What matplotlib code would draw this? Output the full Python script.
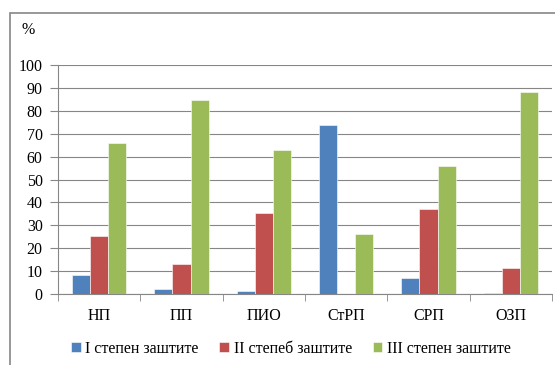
import matplotlib
matplotlib.use("Agg")
import matplotlib.pyplot as plt
import numpy as np
from matplotlib.patches import Rectangle

categories = ["НП", "ПП", "ПИО", "СтРП", "СРП", "ОЗП"]
series_names = ["I степен заштите", "II степеб заштите", "III степен заштите"]
s1 = [8.5, 2.0, 1.5, 74.0, 7.0, 0.5]
s2 = [25.5, 13.3, 35.5, 0.0, 37.0, 11.5]
s3 = [66.0, 84.7, 63.0, 26.0, 56.0, 88.0]
colors = ["#4F81BD", "#C0504D", "#9BBB59"]
yticks = [0, 10, 20, 30, 40, 50, 60, 70, 80, 90, 100]

plt.rcParams['font.family'] = ['Liberation Serif', 'DejaVu Serif']

W, H = 555, 365
fig = plt.figure(figsize=(W/100, H/100), dpi=100)
ax = fig.add_axes([58/W, 1-294/H, (552-58)/W, (294-65)/H])

x = np.arange(len(categories))
bw = 0.22
for i, (vals, c, name) in enumerate(zip([s1, s2, s3], colors, series_names)):
    ax.bar(x + (i-1)*bw, vals, width=bw, color=c, label=name,
           edgecolor='white', linewidth=0.4, zorder=3)

ax.set_xlim(-0.5, len(categories)-0.5)
ax.set_ylim(0, 100)
ax.set_yticks(yticks)
ax.set_yticklabels([str(v) for v in yticks], fontsize=11.5)
ax.set_xticks(x)
ax.set_xticklabels(categories, fontsize=11.5)
ax.set_xticks(np.arange(len(categories)+1)-0.5, minor=True)
ax.tick_params(axis='x', which='major', length=0, pad=10)
ax.tick_params(axis='x', which='minor', length=5, color='#868686', direction='out')
ax.tick_params(axis='y', length=6, color='#868686', direction='out', pad=5)
ax.grid(axis='y', color='#868686', linewidth=0.8, zorder=0)
for s in ['top', 'right']:
    ax.spines[s].set_visible(False)
for s in ['left', 'bottom']:
    ax.spines[s].set_color('#868686')
    ax.spines[s].set_linewidth(0.8)

fig.text(22/W, 1-30/H, "%", fontsize=11.5, ha='left', va='center')

leg = fig.legend(loc='center', bbox_to_anchor=(291/W, 1-349/H), ncol=3, frameon=False,
                 fontsize=11.5, handlelength=0.6, handleheight=0.6, handletextpad=0.3,
                 columnspacing=1.3)

fig.add_artist(Rectangle((10/W, -0.1), 1.2, 1-13/H+0.1, transform=fig.transFigure,
                         fill=False, edgecolor='#868686', linewidth=1.2))

fig.savefig("out.png", dpi=100)
